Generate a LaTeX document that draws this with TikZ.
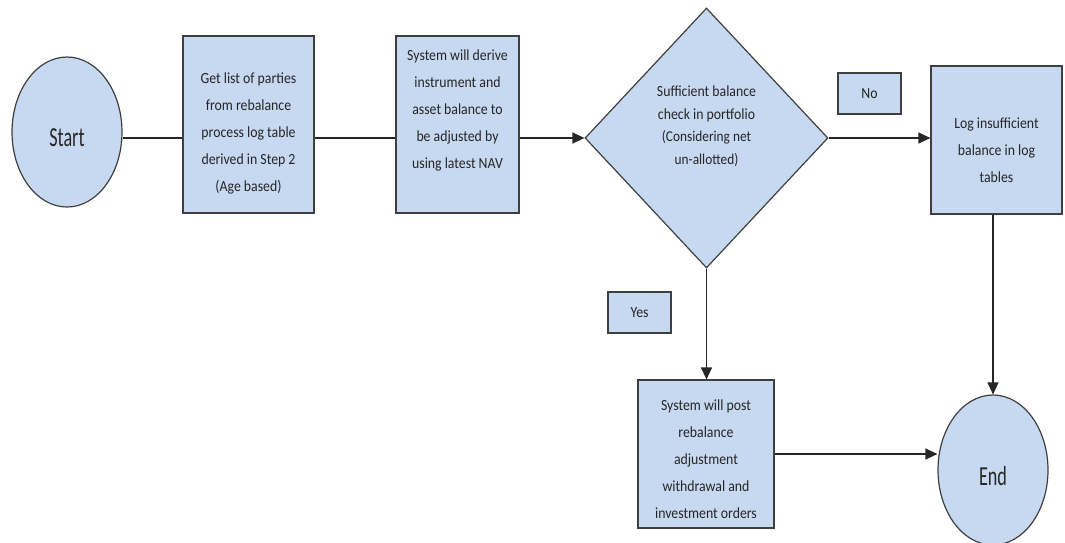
\documentclass[tikz,border=0pt]{standalone}
\usepackage{fontspec}
\setmainfont{Carlito}
\newfontfamily\boxfont[FakeStretch=0.89]{Carlito}
\newfontfamily\termfont[FakeStretch=0.66]{Carlito}
\usepackage{tikz}
\usetikzlibrary{shapes.geometric}
\usetikzlibrary{arrows.meta}
\definecolor{boxblue}{HTML}{C6D9F1}
\definecolor{boxline}{HTML}{3F3F3F}
\definecolor{inkgray}{HTML}{262626}

\begin{document}
\begin{tikzpicture}[x=1pt,y=-1pt]
			\tikzset{shp/.style={draw=boxline, fill=boxblue, line width=1.2pt, inner sep=0pt},
				box/.style={shp, rectangle},
				term/.style={shp, ellipse, minimum width=110, minimum height=150},
				dec/.style={shp, diamond, minimum width=243, minimum height=260},
				txt/.style={align=center, text=inkgray, font=\fontsize{15.5}{27}\selectfont\boxfont},
				termtxt/.style={text=inkgray, font=\fontsize{27.5}{30}\selectfont\termfont},
				line/.style={draw=inkgray, line width=1.3pt},
				arr/.style={line, -{Triangle[length=12pt, width=11pt]}}}
			\useasboundingbox (0,0) rectangle (1065,542);
			\coordinate (axis) at (0,138);
			% terminals
			\node[term, label={[name=start-t, termtxt, yshift=-6]center:Start}] (start) at (67,132) {};
			\node[term, label={[name=end-t, termtxt, yshift=-6.5]center:End}] (end) at (993,470) {};
			% process boxes
			\node[box, minimum width=131, minimum height=177, label={[name=b1-t, txt, yshift=-8.5]center:{Get list of parties\\from rebalance\\process log table\\derived in Step 2\\(Age based)}}] (b1) at (248.5,124.5) {};
			\node[box, minimum width=123, minimum height=177, label={[name=b2-t, txt, yshift=14]center:{System will derive\\instrument and\\asset balance to\\be adjusted by\\using latest NAV}}] (b2) at (457.5,124.5) {};
			\node[dec, label={[name=dec-t, txt, font=\fontsize{15.5}{22.5}\selectfont\boxfont, yshift=12]center:{Sufficient balance\\check in portfolio\\{\fontsize{15}{22.5}\selectfont(Considering net}\\{\fontsize{15}{22.5}\selectfont un-allotted)}}}] (dec) at (706.5,138) {};
			\node[box, minimum width=131, minimum height=148, label={[name=b3-t, txt, yshift=-10]center:{Log insufficient\\balance in log\\tables}}] (b3) at (996.5,140) {};
			\node[box, minimum width=136, minimum height=148, label={[name=b4-t, txt, yshift=-5]center:{System will post\\rebalance\\adjustment\\withdrawal and\\investment orders}}] (b4) at (706,454) {};
			% answers
			\node[box, txt, minimum width=63, minimum height=41] (no) at (869.5,93.5) {No};
			\node[box, txt, minimum width=63, minimum height=41] (yes) at (639.5,312.5) {Yes};
			% connectors
			\draw[line] (start.east |- axis) -- (b1.west |- axis);
			\draw[line] (b1.east |- axis) -- (b2.west |- axis);
			\draw[arr] (b2.east |- axis) -- (dec.west);
			\draw[arr] (dec.east) -- (b3.west |- dec.east);
			\draw[arr] (dec.south) -- (b4.north -| dec.south);
			\draw[arr] (b3.south -| end.north) -- (end.north);
			\draw[arr] (b4.east) -- (end.west |- b4.east);
		\end{tikzpicture}
\end{document}
